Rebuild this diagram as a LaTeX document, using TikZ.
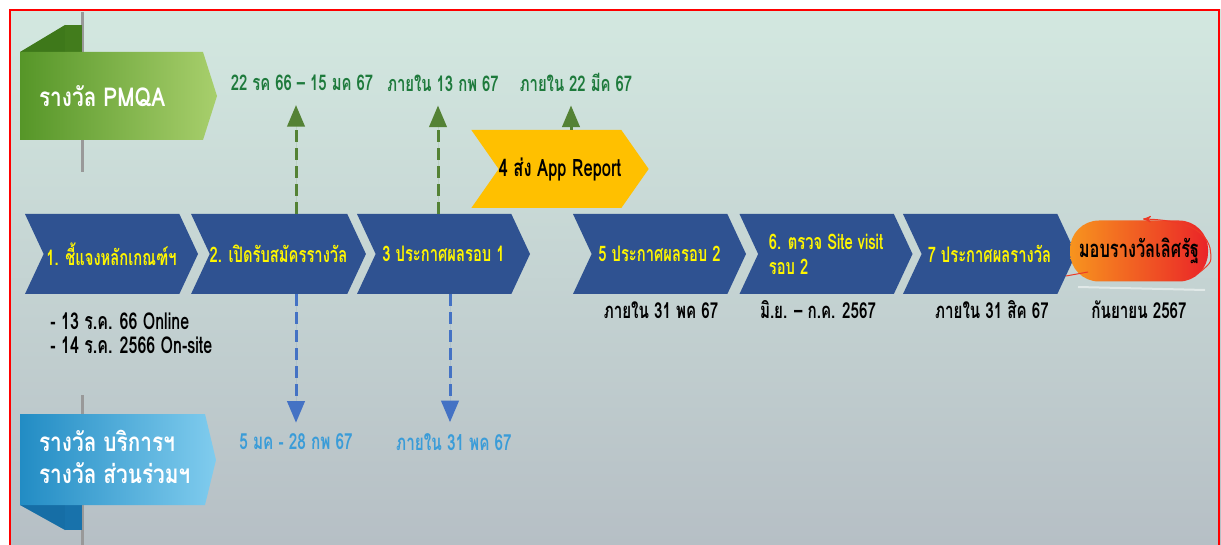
\documentclass[tikz,border=0pt]{standalone}
\usepackage{fontspec}
\setmainfont[Script=Thai,FakeStretch=0.69]{Loma}
\newfontfamily\ribfont[Script=Thai,FakeStretch=0.8]{Loma}
\usetikzlibrary{arrows,shapes.symbols}

\definecolor{bgtop}{RGB}{211,232,224}
\definecolor{bgmid}{RGB}{200,214,212}
\definecolor{bgbot}{RGB}{182,191,197}
\definecolor{chevblue}{RGB}{47,82,145}
\definecolor{chevtext}{RGB}{255,246,0}
\definecolor{appyellow}{RGB}{255,192,0}
\definecolor{grndark}{RGB}{86,150,40}
\definecolor{grnlight}{RGB}{168,207,108}
\definecolor{grnfold}{RGB}{62,120,26}
\definecolor{bludark}{RGB}{34,140,196}
\definecolor{blulight}{RGB}{128,204,238}
\definecolor{blufold}{RGB}{22,110,166}
\definecolor{datgreen}{RGB}{30,122,60}
\definecolor{arrgreen}{RGB}{84,130,53}
\definecolor{datblue}{RGB}{58,156,216}
\definecolor{arrblue}{RGB}{68,114,196}
\definecolor{awdorange}{RGB}{247,148,30}
\definecolor{awdred}{RGB}{234,36,40}

\begin{document}
\begin{tikzpicture}[x=0.5pt,y=-0.5pt,>=triangle 45,
    chevron/.style={signal,signal from=west,signal to=east,signal pointer angle=130,
      fill=chevblue,minimum width=86.5pt,minimum height=40pt,inner sep=0pt,
      text=chevtext,font=\bfseries\fontsize{10.7}{12.5}\selectfont},
    appbox/.style={signal,signal from=west,signal to=east,signal pointer angle=110,
      fill=appyellow,minimum width=85pt,minimum height=39pt,inner sep=0pt,
      font=\bfseries\fontsize{12}{14}\selectfont},
    award/.style={rounded corners=14.5pt,left color=awdorange,right color=awdred,
      minimum width=69pt,minimum height=30.5pt,inner sep=0pt,
      font=\bfseries\fontsize{11.9}{14}\selectfont},
    ribtxt/.style={text=white,align=left,anchor=west,font=\ribfont\bfseries\fontsize{13}{16}\selectfont},
    update/.style={text=datgreen,inner sep=1pt,font=\bfseries\fontsize{10.8}{12}\selectfont},
    dndate/.style={text=datblue,inner sep=1pt,font=\bfseries\fontsize{11.1}{12}\selectfont},
    datebk/.style={text=black,inner sep=1pt,font=\bfseries\fontsize{11}{12}\selectfont},
    gline/.style={->,draw=arrgreen,fill=arrgreen,line width=1.5pt,dash pattern=on 6pt off 3pt,shorten >=6pt},
    bline/.style={->,draw=arrblue,fill=arrblue,line width=1.5pt,dash pattern=on 6pt off 3pt,shorten >=4.5pt}]

  % background and frame
  \useasboundingbox (0,0) rectangle (1221,545);
  \fill[white] (0,0) rectangle (1221,545);
  \shade[top color=bgtop,middle color=bgmid,bottom color=bgbot] (10,10) rectangle (1221,545);
  \draw[red,line width=1.3pt] (10,548) -- (10,10) -- (1219,10) -- (1219,548);

  % wall line behind the ribbons
  \draw[gray!80,line width=1.5pt] (82,12) -- (82,172);
  \draw[gray!80,line width=1.5pt] (82,395) -- (82,545);

  % PMQA ribbon
  \fill[grnfold] (20,52) -- (65,25) -- (65,52) -- cycle;
  \fill[grnfold!85!grndark] (65,25) rectangle (82,52);
  \shade[left color=grndark,right color=grnlight] (20,52) -- (203,52) -- (217,96) -- (203,140) -- (20,140) -- cycle;
  \node[ribtxt] (pmqa) at (32,96) {รางวัล PMQA};

  % service ribbon
  \fill[blufold] (20,505) -- (65,530) -- (65,505) -- cycle;
  \fill[blufold!85!bludark] (65,505) rectangle (82,530);
  \shade[left color=bludark,right color=blulight] (20,414) -- (205,414) -- (216,460) -- (205,505) -- (20,505) -- cycle;
  \node[ribtxt] (svc) at (32,457) {รางวัล บริการฯ\\รางวัล ส่วนร่วมฯ};

  % steps
  \node[chevron] (c1) at (111.5,254) {1. ชี้แจงหลักเกณฑ์ฯ};
  \node[chevron] (c2) at (278.5,254) {2. เปิดรับสมัครรางวัล};
  \node[chevron] (c3) at (443.5,254) {3 ประกาศผลรอบ 1};
  \node[appbox] (c4) at (560,169) {4 ส่ง App Report};
  \node[chevron] (c5) at (659.5,254) {5 ประกาศผลรอบ 2};
  \node[chevron,align=left] (c6) at (826,254) {6. ตรวจ Site visit\\รอบ 2};
  \node[chevron] (c7) at (989.5,254) {7 ประกาศผลรางวัล};
  \node[award] (awd) at (1139,251) {มอบรางวัลเลิศรัฐ};
  \draw[white,opacity=0.5,line width=1pt] (1078,287) -- (1205,290);
  \draw[stealth'-,awdred!80!awdorange,line width=0.5pt] (1143,219) .. controls (1180,220) and (1205,228) .. (1210,248) .. controls (1212,262) .. (1200,272);
  \draw[awdred!80!awdorange,line width=0.5pt] (1066,276) -- (1088,272);

  % dates for PMQA
  \node[update] (u2) at (302,83) {22 รค 66 – 15 มค 67};
  \node[update] (u3) at (443,83) {ภายใน 13 กพ 67};
  \node[update] (u4) at (576,82) {ภายใน 22 มีค 67};

  % dates for the other awards
  \node[dndate] (d2) at (296,442) {5 มค - 28 กพ 67};
  \node[dndate] (d3) at (454,442) {ภายใน 31 พค 67};

  % dates under the steps
  \node[datebk,align=left,anchor=west,font=\bfseries\fontsize{11.6}{12}\selectfont] (t1) at (48,333) {- 13 ร.ค. 66 Online\\- 14 ร.ค. 2566 On-site};
  \node[datebk] (t5) at (661,310) {ภายใน 31 พค 67};
  \node[datebk] (t6) at (818,310) {มิ.ย. – ก.ค. 2567};
  \node[datebk] (t7) at (992,310) {ภายใน 31 สิค 67};
  \node[datebk] (t8) at (1139,310) {กันยายน 2567};

  \draw[gline] (c2.north -| 296,0) -- (u2.south -| 296,0);
  \draw[gline] (c3.north -| 438,0) -- (u3.south -| 438,0);
  \draw[gline] (c4.north -| 571,0) -- (u4.south -| 571,0);
  \draw[bline] (c2.south -| d2.north) -- (d2.north);
  \draw[bline] (c3.south -| 450,0) -- (d3.north -| 450,0);
\end{tikzpicture}
\end{document}
